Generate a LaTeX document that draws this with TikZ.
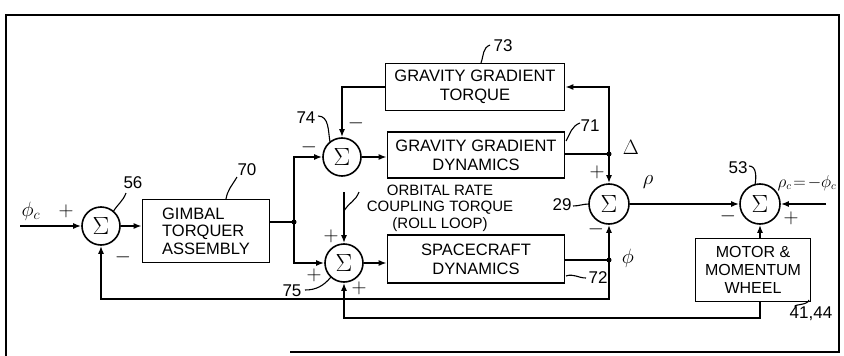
\documentclass[tikz,border=0pt]{standalone}
\usepackage{fontspec}
\setmainfont{Liberation Sans}
\usetikzlibrary{arrows.meta}

\begin{document}
\begin{tikzpicture}[
  x=1pt, y=-1pt,
  line width=1.6pt,
  sumnode/.style={circle, draw, minimum size=38pt, inner sep=0pt,
    font=\fontsize{24}{24}\selectfont},
  blockbox/.style={draw, align=center, inner sep=2pt,
    font=\fontsize{16.5}{19}\selectfont},
  sig/.style={-{Latex[length=8pt,width=6pt]}},
  lead/.style={line width=1.1pt},
  junc/.style={circle, fill, inner sep=0pt, minimum size=5pt},
  sgn/.style={font=\fontsize{20}{20}\selectfont\bfseries, inner sep=0pt},
  tag/.style={font=\fontsize{17}{17}\selectfont, inner sep=1pt},
  var/.style={font=\fontsize{21}{21}\selectfont, inner sep=0pt}
]
\useasboundingbox (0,0) rectangle (844,356);

% frame
\draw (6,356) -- (6,15) -- (839,15) -- (839,352) -- (290,352);

% summing junctions and blocks
\node[sumnode] (s56) at (101,226) {$\Sigma$};
\node[blockbox, align=left, minimum width=127pt, minimum height=63pt, font=\fontsize{16.5}{17.5}\selectfont] (gta) at (206,231) {GIMBAL\\TORQUER\\ASSEMBLY};
\node[sumnode] (s74) at (342,157) {$\Sigma$};
\node[blockbox, minimum width=179pt, minimum height=47pt] (ggt) at (475,87) {GRAVITY GRADIENT\\TORQUE};
\node[blockbox, minimum width=177pt, minimum height=46pt] (ggd) at (476,155) {GRAVITY GRADIENT\\DYNAMICS};
\node[sumnode] (s75) at (344,263) {$\Sigma$};
\node[blockbox, minimum width=177pt, minimum height=48pt] (scd) at (476,259) {SPACECRAFT\\DYNAMICS};
\node[sumnode, minimum size=40pt] (s29) at (609,204) {$\Sigma$};
\node[sumnode, minimum size=40pt] (s53) at (760,204) {$\Sigma$};
\node[blockbox, minimum width=115pt, minimum height=63pt, font=\fontsize{16}{18}\selectfont] (mmw) at (753,270) {MOTOR \&\\MOMENTUM\\WHEEL};
\node[align=center, inner sep=0pt, font=\fontsize{15}{16.5}\selectfont] (orb) at (440,208) {ORBITAL RATE\\COUPLING TORQUE\\(ROLL LOOP)};

% branch points
\node[junc] (j1) at (294,222) {};
\node[junc] (j2) at (609,154) {};
\node[junc] (j3) at (609,260) {};
\coordinate (in) at (20,226);
\coordinate (rin) at (826,204);
\coordinate (orbtop) at (344,192);
\coordinate (c1) at (609,299);
\coordinate (c2) at (760,318);

% signal lines
\draw[sig] (in) -- (s56.west);
\draw[sig] (s56.east) -- (s56.east -| gta.west);
\draw (gta.east |- j1) -- (j1.center);
\draw[sig] (j1.center) |- (s74.west);
\draw[sig] (j1.center) |- (s75.west);
\draw[sig] (s74.east) -- (s74.east -| ggd.west);
\draw (ggd.east |- j2) -- (j2.center);
\draw[sig] (j2.center) |- (ggt.east);
\draw[sig] (ggt.west) -| (s74.north);
\draw[sig] (j2.center) -- (s29.north);
\draw[sig] (orbtop) -- (s75.north);
\draw[sig] (s75.east) -- (s75.east -| scd.west);
\draw (scd.east |- j3) -- (j3.center);
\draw[sig] (j3.center) -- (s29.south);
\draw[sig] (j3.center) -- (c1) -| (s56.south);
\draw[sig] (s29.east) -- (s53.west);
\draw[sig] (rin) -- (s53.east);
\draw[sig] (s53.south |- mmw.north) -- (s53.south);
\draw[sig] (s53.south |- mmw.south) -- (c2) -| (s75.south);

% signs
\node[sgn] (p56a) at (66,211) {$+$};
\node[sgn] (m56b) at (123,257) {$-$};
\node[sgn] (m74a) at (309,147) {$-$};
\node[sgn] (m74b) at (356,123) {$-$};
\node[sgn] (p75a) at (331,236) {$+$};
\node[sgn] (p75b) at (314,275) {$+$};
\node[sgn] (p75c) at (359,288) {$+$};
\node[sgn] (p29a) at (597,172) {$+$};
\node[sgn] (m29b) at (596,229) {$-$};
\node[sgn] (m53a) at (728,216) {$-$};
\node[sgn] (p53b) at (791,218) {$+$};

% signal names
\node[var] (phic) at (31,211) {$\phi_c$};
\node[var] (delta) at (631,147) {$\Delta$};
\node[var] (rho) at (648,182) {$\rho$};
\node[var] (phi) at (628,258) {$\phi$};
\node[var, font=\fontsize{16}{16}\selectfont] (rhoc) at (807,183) {$\rho_c\!=\!-\phi_c$};

% reference numerals
\node[tag] (l56) at (133,183) {56};
\node[tag] (l70) at (247,170) {70};
\node[tag] (l74) at (306,118) {74};
\node[tag] (l73) at (503,46) {73};
\node[tag] (l71) at (590,126) {71};
\node[tag] (l29) at (562,205) {29};
\node[tag] (l53) at (738,168) {53};
\node[tag] (l75) at (292,291) {75};
\node[tag] (l72) at (598,278) {72};
\node[tag] (l4144) at (811,314) {41,44};

% leaders
\draw[lead] (126,193) to[out=250, in=60] (113,212);
\draw[lead] (237,177) to[out=240, in=80] (226,199);
\draw[lead] (318,116) to[out=0, in=100] (330,142);
\draw[lead] (490,45) to[out=200, in=70] (481,63);
\draw[lead] (580,123) to[out=200, in=60] (566,141);
\draw[lead] (573,206) to[out=0, in=180] (589,204);
\draw[lead] (749,166) to[out=0, in=80] (755,185);
\draw[lead] (305,290) to[out=0, in=230] (331,277);
\draw[lead] (566,276) to[out=20, in=180] (586,278);
\draw[lead] (809,300) to[out=260, in=150] (796,307);
\draw[lead] (344,211) to[out=60, in=250] (359,192);
\end{tikzpicture}
\end{document}
